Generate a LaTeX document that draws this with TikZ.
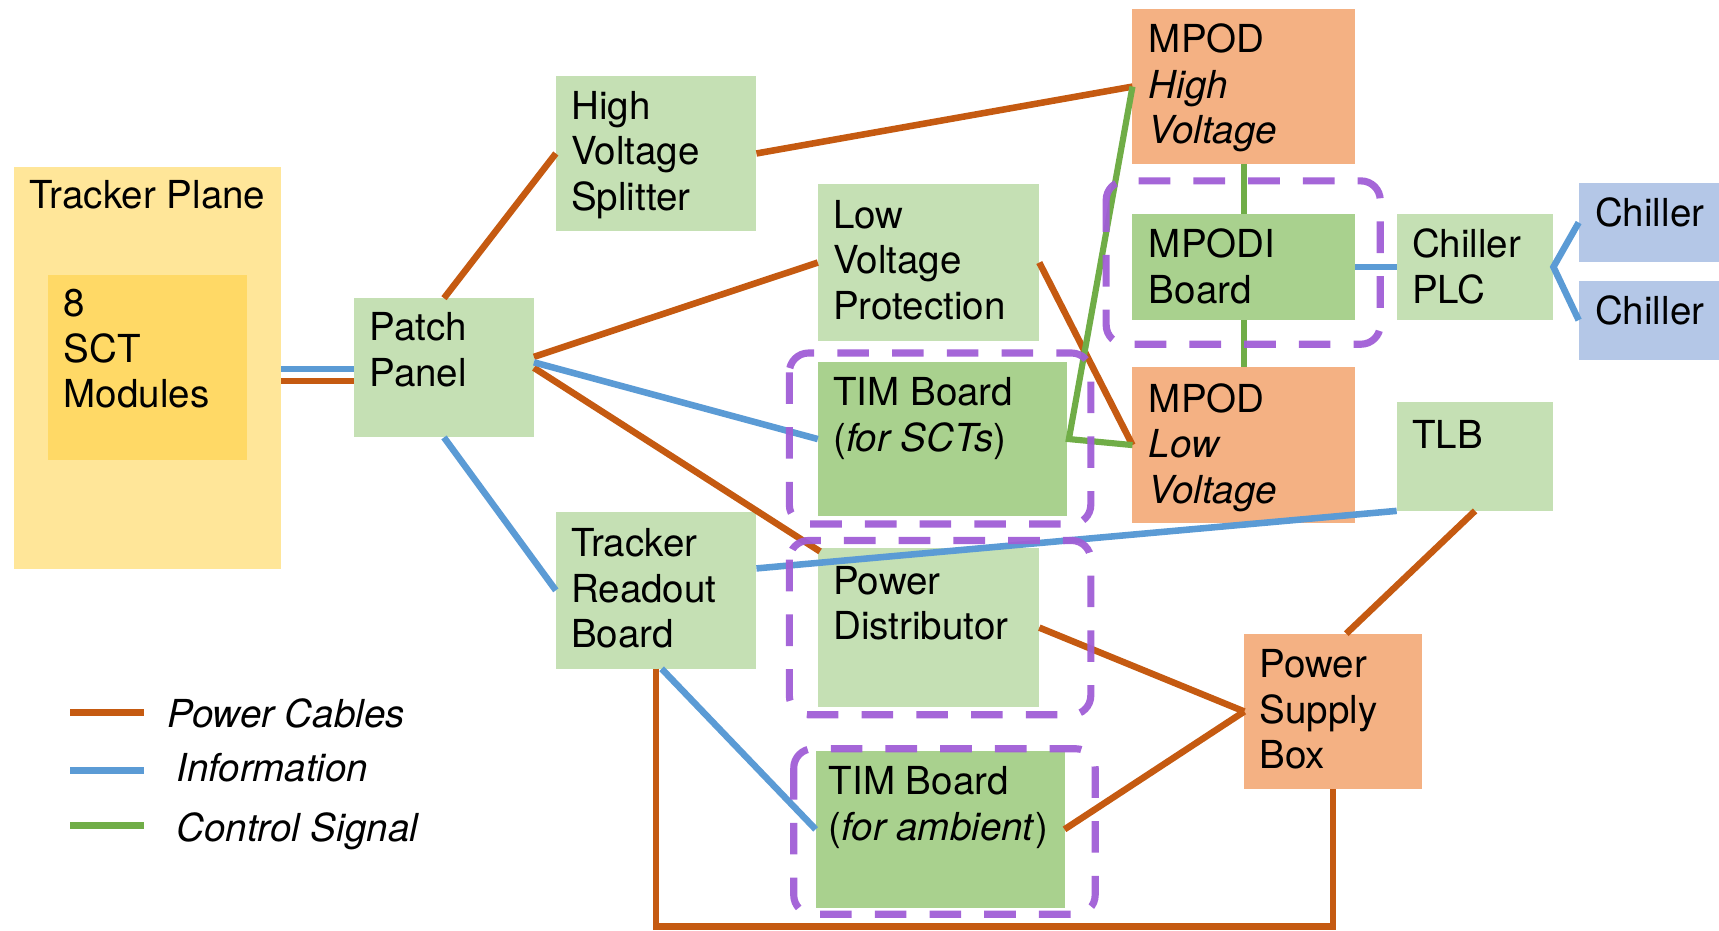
\documentclass[tikz,border=0pt]{standalone}
\usepackage{fontspec}
\setmainfont{TeX Gyre Heros}
\usetikzlibrary{calc,fit}
\definecolor{cYel}{HTML}{FFE699}
\definecolor{cYelD}{HTML}{FFD966}
\definecolor{cGrL}{HTML}{C5E0B4}
\definecolor{cGrD}{HTML}{A9D18E}
\definecolor{cOrB}{HTML}{F4B183}
\definecolor{cBlB}{HTML}{B4C7E7}
\definecolor{cPow}{HTML}{C55A11}
\definecolor{cInf}{HTML}{5B9BD5}
\definecolor{cCtl}{HTML}{70AD47}
\definecolor{cPur}{HTML}{A05ED6}
\newcommand{\ml}[1]{\begin{tabular}[t]{@{}l@{}}#1\end{tabular}}
\begin{document}
\begin{tikzpicture}[x=0.01cm,y=-0.01cm,
  box/.style={inner sep=0pt,outer sep=0pt,draw=none},
  txt/.style={inner sep=0pt,outer sep=0pt,anchor=base west,font=\fontsize{10}{11.8}\selectfont},
  pw/.style={draw=cPow,line width=1.7pt},
  inf/.style={draw=cInf,line width=1.7pt},
  ctl/.style={draw=cCtl,line width=1.6pt},
  grp/.style={draw=cPur,draw opacity=0.95,line width=1.85pt,dash pattern=on 8.2pt off 6pt,rounded corners=5pt}]
\useasboundingbox (0,0) rectangle (1568,849);
% boxes
\node[box,fill=cYel,fit={(13,152) (256,519)}] (tp) {};
\node[box,fill=cYelD,fit={(44,251) (225,420)}] (sct) {};
\node[box,fill=cGrL,fit={(323,272) (487,399)}] (pp) {};
\node[box,fill=cGrL,fit={(507,69) (690,211)}] (hvs) {};
\node[box,fill=cGrL,fit={(746,168) (948,311)}] (lvp) {};
\node[box,fill=cOrB,fit={(1033,8) (1236,150)}] (mhv) {};
\node[box,fill=cGrD,fit={(1033,195) (1236,292)}] (mpodi) {};
\node[box,fill=cGrL,fit={(1274,195) (1417,292)}] (cplc) {};
\node[box,fill=cBlB,fit={(1440,167) (1568,239)}] (ch1) {};
\node[box,fill=cBlB,fit={(1440,256) (1568,328)}] (ch2) {};
\node[box,fill=cGrD,fit={(746,330) (973,471)}] (tim1) {};
\node[box,fill=cOrB,fit={(1033,335) (1236,477)}] (mlv) {};
\node[box,fill=cGrL,fit={(1274,367) (1417,466)}] (tlb) {};
\node[box,fill=cGrL,fit={(507,467) (690,610)}] (trb) {};
\node[box,fill=cGrL,fit={(746,500) (948,645)}] (pd) {};
\node[box,fill=cOrB,fit={(1135,578) (1297,720)}] (psb) {};
\node[box,fill=cGrD,fit={(744,685) (971,828)}] (tim2) {};
% texts
\node[txt] (t-tp) at ($(tp.north west)+(14,38)$) {Tracker Plane};
\node[txt] (t-sct) at ($(sct.north west)+(14,38)$) {\ml{8\\SCT\\Modules}};
\node[txt] (t-pp) at ($(pp.north west)+(14,39)$) {\ml{Patch\\Panel}};
\node[txt] (t-hvs) at ($(hvs.north west)+(14,40)$) {\ml{High\\Voltage\\Splitter}};
\node[txt] (t-lvp) at ($(lvp.north west)+(14,40)$) {\ml{Low\\Voltage\\Protection}};
\node[txt] (t-mhv) at ($(mhv.north west)+(15,40)$) {\ml{MPOD\\\textit{High}\\\textit{Voltage}}};
\node[txt] (t-mpodi) at ($(mpodi.north west)+(15,40)$) {\ml{MPODI\\Board}};
\node[txt] (t-cplc) at ($(cplc.north west)+(14,40)$) {\ml{Chiller\\PLC}};
\node[txt] (t-ch1) at ($(ch1.north west)+(15,40)$) {Chiller};
\node[txt] (t-ch2) at ($(ch2.north west)+(15,40)$) {Chiller};
\node[txt] (t-tim1) at ($(tim1.north west)+(14,40)$) {\ml{TIM Board\\(\textit{for SCTs})}};
\node[txt] (t-mlv) at ($(mlv.north west)+(15,41)$) {\ml{MPOD\\\textit{Low}\\\textit{Voltage}}};
\node[txt] (t-tlb) at ($(tlb.north west)+(14,42)$) {TLB};
\node[txt] (t-trb) at ($(trb.north west)+(14,41)$) {\ml{Tracker\\Readout\\Board}};
\node[txt] (t-pd) at ($(pd.north west)+(14,42)$) {\ml{Power\\Distributor}};
\node[txt] (t-psb) at ($(psb.north west)+(14,40)$) {\ml{Power\\Supply\\Box}};
\node[txt] (t-tim2) at ($(tim2.north west)+(12,40)$) {\ml{TIM Board\\(\textit{for ambient})}};
% tracker plane to patch panel
\coordinate (ppa) at ($(pp.west)+(0,1)$);
\coordinate (ppb) at ($(pp.west)+(0,12)$);
\draw[inf] (ppa) -- (ppa -| tp.east);
\draw[pw] (ppb) -- (ppb -| tp.east);
% power cables
\draw[pw] (pp.north) -- (hvs.west);
\draw[pw] (hvs.east) -- (mhv.west);
\draw[pw] ($(pp.east)+(0,-10)$) -- (lvp.west);
\draw[pw] (pp.east) -- ($(pd.north west)+(2,3)$);
\draw[pw] (lvp.east) -- (mlv.west);
\draw[pw] ($(tim1.south)+(-2,0)$) -- ($(tim1.south)+(-2,0)$ |- pd.north);
\draw[pw] (pd.east) -- (psb.west);
\draw[pw] (tim2.east) -- (psb.west);
\draw[pw] (tlb.south) -- ($(psb.north)+(12,0)$);
\coordinate (lowy) at (0,845);
\draw[pw] (trb.south) -- (trb.south |- lowy) -- (psb.south |- lowy) -- (psb.south);
% information
\draw[inf] ($(pp.east)+(0,-5)$) -- (tim1.west);
\draw[inf] (pp.south) -- (trb.west);
\draw[inf] ($(trb.east)+(0,-20)$) -- (tlb.south west);
\draw[inf] ($(trb.south)+(5,0)$) -- (tim2.west);
\draw[inf] (mpodi.east) -- (cplc.west);
\draw[inf] (ch1.west) -- (cplc.east) -- (ch2.west);
% control
\draw[ctl] (mhv.south) -- (mpodi.north);
\draw[ctl] (mpodi.south) -- (mlv.north);
\draw[ctl] (mhv.west) -- ($(tim1.east)+(2,0)$) -- (mlv.west);
% groups
\draw[grp] (1009,165) rectangle (1259,314);
\draw[grp] (720,322) rectangle (995,478);
\draw[grp] (720,493) rectangle (995,652);
\draw[grp] (724,683) rectangle (999,834);
% legend
\coordinate (l1a) at (64,650); \coordinate (l1b) at (131,650);
\coordinate (l2a) at (64,703); \coordinate (l2b) at (131,703);
\coordinate (l3a) at (64,753); \coordinate (l3b) at (131,753);
\draw[pw,line width=1.9pt] (l1a) -- (l1b);
\draw[inf,line width=1.9pt] (l2a) -- (l2b);
\draw[ctl,line width=1.9pt] (l3a) -- (l3b);
\node[txt] (lt1) at (153,664) {\textit{Power Cables}};
\node[txt] (lt2) at (161,713) {\textit{Information}};
\node[txt] (lt3) at (161,768) {\textit{Control Signal}};
\end{tikzpicture}
\end{document}
